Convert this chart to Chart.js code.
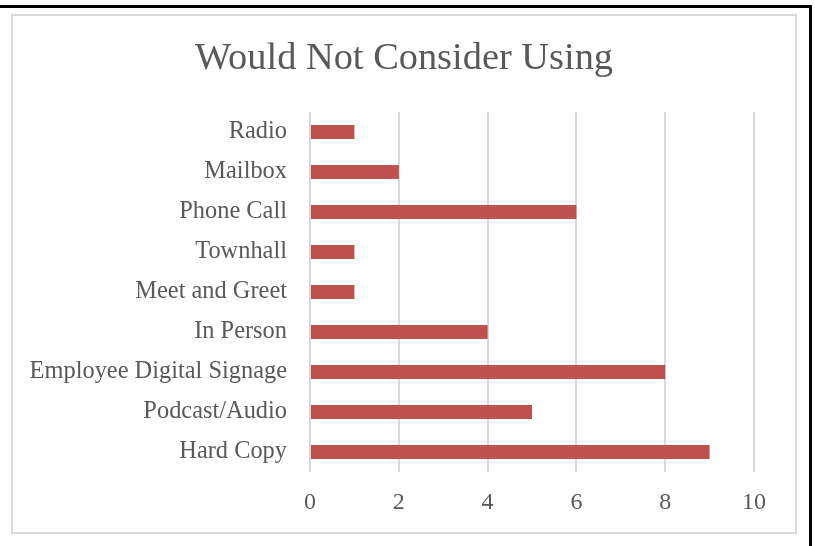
<!DOCTYPE html>
<html>
<head>
<meta charset="utf-8">
<script src="https://cdn.jsdelivr.net/npm/chart.js@4"></script>
<style>
  html, body { margin: 0; padding: 0; background: #fff; }
  body { width: 815px; height: 546px; position: relative; overflow: hidden; }
  .rule-top { position: absolute; left: 0; top: 5px; width: 812px; height: 3px; background: #000; }
  .rule-right { position: absolute; left: 809px; top: 5px; width: 3px; height: 541px; background: #000; }
  .frame { position: absolute; left: 11px; top: 14px; width: 782px; height: 516px; border: 2px solid #d9d9d9; }
  canvas { display: block; }
</style>
</head>
<body>
<div class="rule-top"></div>
<div class="rule-right"></div>
<div class="frame"><canvas id="chart" width="782" height="516"></canvas></div>
<script>
// --- Channels respondents would not consider ---
const channels = [
  'Radio',
  'Mailbox',
  'Phone Call',
  'Townhall',
  'Meet and Greet',
  'In Person',
  'Employee Digital Signage',
  'Podcast/Audio',
  'Hard Copy',
];
const counts = [1, 2, 6, 1, 1, 4, 8, 5, 9];
const xTicks = [0, 2, 4, 6, 8, 10];

const TEXT = '#595959';
const GRID = '#d9d9d9';
const BAR = '#c0504d';
const FONT = '"Liberation Serif", "Times New Roman", serif';

new Chart(document.getElementById('chart'), {
  type: 'bar',
  data: {
    labels: channels,
    datasets: [
      {
        data: counts,
        backgroundColor: BAR,
        borderWidth: 0,
        barPercentage: 0.35,
        categoryPercentage: 1,
      },
    ],
  },
  options: {
    indexAxis: 'y',
    responsive: false,
    devicePixelRatio: 1,
    animation: false,
    layout: { padding: 0 },
    plugins: {
      legend: { display: false },
      tooltip: { enabled: false },
      title: {
        display: true,
        text: 'Would Not Consider Using',
        color: TEXT,
        font: { family: FONT, size: 38.4, weight: 'normal' },
        padding: { top: 20, bottom: 30 },
      },
    },
    scales: {
      x: {
        min: xTicks[0],
        max: xTicks[xTicks.length - 1],
        afterBuildTicks: (axis) => {
          axis.ticks = xTicks.map((v) => ({ value: v }));
        },
        afterFit: (axis) => {
          // room on the right so the title stays centred on the whole frame
          axis.height = 60;
          axis.paddingRight = 41;
        },
        grid: { color: GRID, lineWidth: 2, drawTicks: false },
        border: { display: false },
        ticks: {
          color: TEXT,
          padding: 16,
          font: { family: FONT, size: 24 },
          maxRotation: 0,
        },
      },
      y: {
        afterFit: (axis) => {
          axis.width = 297;
        },
        grid: { display: false },
        border: { display: false },
        ticks: {
          color: TEXT,
          padding: 15,
          font: { family: FONT, size: 24.4 },
        },
      },
    },
  },
});
</script>
</body>
</html>
